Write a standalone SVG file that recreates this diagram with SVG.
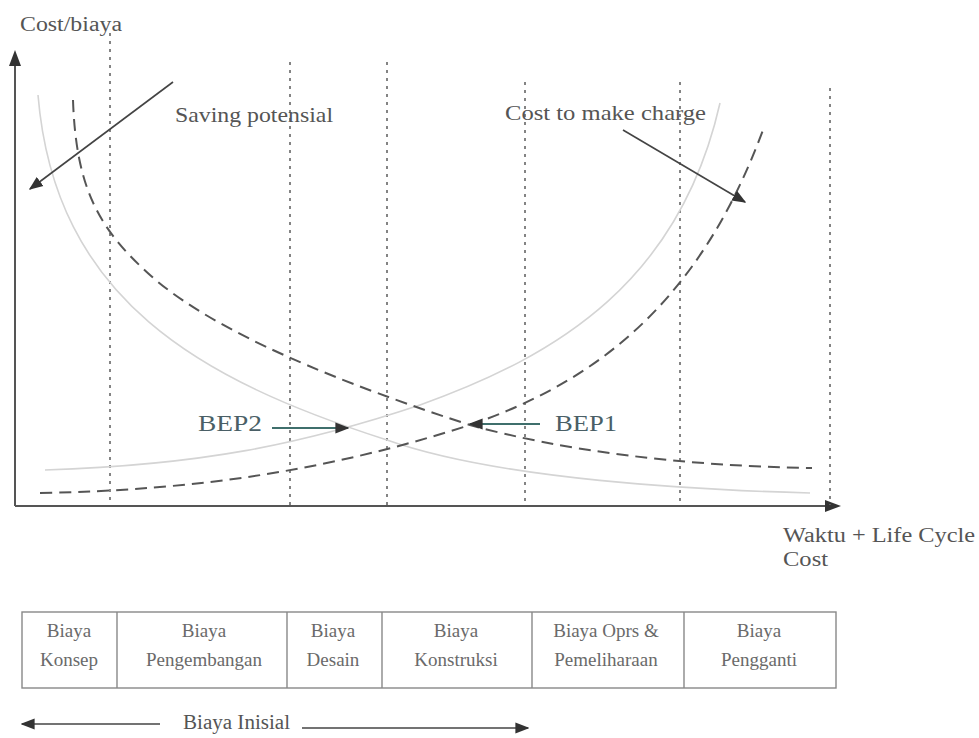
<svg xmlns="http://www.w3.org/2000/svg" width="979" height="738" viewBox="0 0 979 738">
  <style>
    .txt { font-family: "Liberation Serif", "Times New Roman", serif; fill: #555; }
    .lbl { font-size: 22px; }
    .cell { font-size: 19px; fill: #6a6a6a; text-anchor: middle; }
    .bep { font-size: 24px; fill: #4a5f66; }
    .axis { stroke: #555; stroke-width: 2; fill: none; }
    .grid { stroke: #666; stroke-width: 1.6; stroke-dasharray: 3 5; fill: none; }
    .dash { stroke: #555; stroke-width: 2; stroke-dasharray: 12 7; fill: none; }
    .faint { stroke: #d4d4d4; stroke-width: 1.6; fill: none; }
    .ptr { stroke: #444; stroke-width: 1.6; fill: none; }
    .ptr-teal { stroke: #3f6f6c; stroke-width: 2; fill: none; }
    .box { stroke: #888; stroke-width: 1.4; fill: none; }
  </style>
  <defs>
    <marker id="head-lg" viewBox="0 0 10 10" refX="9" refY="5" markerWidth="14" markerHeight="14" orient="auto" markerUnits="userSpaceOnUse">
      <path d="M0,1 L10,5 L0,9 z" fill="#333"/>
    </marker>
  </defs>

  <!-- axes -->
  <g id="axes">
    <line class="axis" x1="15" y1="506" x2="15" y2="62"/>
    <path d="M15,50 L9,66 L21,66 z" fill="#333"/>
    <line class="axis" x1="15" y1="506" x2="828" y2="506"/>
    <path d="M841,506 L825,500 L825,512 z" fill="#333"/>
    <text class="txt" x="20" y="31" font-size="20" textLength="102" lengthAdjust="spacingAndGlyphs">Cost/biaya</text>
    <text class="txt" x="783" y="542" font-size="20" textLength="192" lengthAdjust="spacingAndGlyphs">Waktu + Life Cycle</text>
    <text class="txt" x="783" y="566" font-size="20" textLength="45" lengthAdjust="spacingAndGlyphs">Cost</text>
  </g>

  <!-- phase boundaries -->
  <g id="gridlines">
    <line class="grid" x1="110" y1="33" x2="110" y2="505"/>
    <line class="grid" x1="290" y1="62" x2="290" y2="505"/>
    <line class="grid" x1="387" y1="62" x2="387" y2="505"/>
    <line class="grid" x1="525" y1="82" x2="525" y2="505"/>
    <line class="grid" x1="680" y1="82" x2="680" y2="505"/>
    <line class="grid" x1="830" y1="88" x2="830" y2="505"/>
  </g>

  <!-- cost curves -->
  <g id="curves">
    <path class="faint" d="M38,95 C55,300 200,380 387,440 C500,480 700,490 810,493"/>
    <path class="faint" d="M45,470 C200,465 300,445 420,405 C560,355 680,280 720,103"/>
    <path class="dash" d="M73,100 C76,190 100,230 150,275 S300,370 470,425 C560,450 680,466 812,468"/>
    <path class="dash" d="M40,493 C200,490 330,470 470,425 C600,380 700,300 763,130"/>
  </g>

  <!-- annotation arrows -->
  <g id="connectors">
    <line class="ptr" x1="173" y1="82" x2="30" y2="189" marker-end="url(#head-lg)"/>
    <line class="ptr" x1="623" y1="130" x2="745" y2="202" marker-end="url(#head-lg)"/>
    <line class="ptr-teal" x1="272" y1="428" x2="348" y2="428" marker-end="url(#head-lg)"/>
    <line class="ptr-teal" x1="540" y1="424" x2="470" y2="424" marker-end="url(#head-lg)"/>
    <line class="ptr" x1="160" y1="724" x2="22" y2="724" marker-end="url(#head-lg)"/>
    <line class="ptr" x1="302" y1="728" x2="528" y2="728" marker-end="url(#head-lg)"/>
  </g>

  <g id="saving">
    <text class="txt lbl" x="175" y="122" textLength="158" lengthAdjust="spacingAndGlyphs">Saving potensial</text>
  </g>
  <g id="change">
    <text class="txt lbl" x="505" y="120" textLength="201" lengthAdjust="spacingAndGlyphs">Cost to make charge</text>
  </g>
  <g id="bep2">
    <text class="txt bep" x="198" y="431" textLength="64" lengthAdjust="spacingAndGlyphs">BEP2</text>
  </g>
  <g id="bep1">
    <text class="txt bep" x="555" y="431" textLength="62" lengthAdjust="spacingAndGlyphs">BEP1</text>
  </g>

  <!-- cost phase table -->
  <g id="phases">
    <rect class="box" x="22" y="612" width="814" height="76"/>
    <line class="box" x1="117" y1="612" x2="117" y2="688"/>
    <line class="box" x1="287" y1="612" x2="287" y2="688"/>
    <line class="box" x1="382" y1="612" x2="382" y2="688"/>
    <line class="box" x1="532" y1="612" x2="532" y2="688"/>
    <line class="box" x1="684" y1="612" x2="684" y2="688"/>
    <text class="txt cell" x="69" y="637">Biaya</text>
    <text class="txt cell" x="69" y="666">Konsep</text>
    <text class="txt cell" x="204" y="637">Biaya</text>
    <text class="txt cell" x="204" y="666">Pengembangan</text>
    <text class="txt cell" x="333" y="637">Biaya</text>
    <text class="txt cell" x="333" y="666">Desain</text>
    <text class="txt cell" x="456" y="637">Biaya</text>
    <text class="txt cell" x="456" y="666">Konstruksi</text>
    <text class="txt cell" x="606" y="637">Biaya Oprs &amp;</text>
    <text class="txt cell" x="606" y="666">Pemeliharaan</text>
    <text class="txt cell" x="759" y="637">Biaya</text>
    <text class="txt cell" x="759" y="666">Pengganti</text>
  </g>
  <g id="initial">
    <text class="txt" x="183" y="729" font-size="20" fill="#666" textLength="107" lengthAdjust="spacingAndGlyphs">Biaya Inisial</text>
  </g>
</svg>
